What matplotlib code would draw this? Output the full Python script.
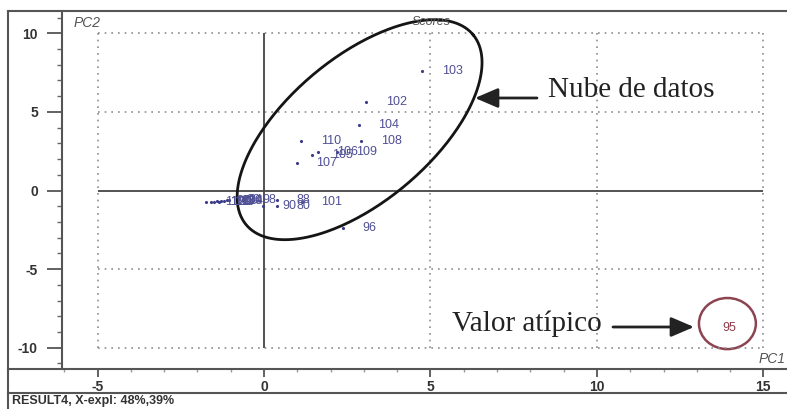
import matplotlib
matplotlib.use('Agg')
import matplotlib.pyplot as plt
import numpy as np
from matplotlib.lines import Line2D
from matplotlib.patches import Ellipse
from matplotlib.ticker import MultipleLocator

# scores (PC1, PC2) with sample labels
labels = ['103', '102', '104', '108', '110', '105', '106', '109', '107',
          '112', '111', '113', '97', '99', '100', '114', '93', '94',
          '98', '90', '80', '88', '101', '96', '95']
pc1 = [4.75, 3.07, 2.84, 2.92, 1.12, 1.45, 1.62, 2.18, 0.99,
       -1.75, -1.6, -1.5, -1.42, -1.35, -1.28, -1.2, -1.12, -1.05,
       -0.64, -0.04, 0.38, 0.38, 1.13, 2.36, 13.19]
pc2 = [7.6, 5.62, 4.17, 3.13, 3.17, 2.28, 2.43, 2.47, 1.75,
       -0.75, -0.72, -0.7, -0.68, -0.7, -0.66, -0.64, -0.62, -0.6,
       -0.6, -0.98, -0.98, -0.6, -0.73, -2.38, -8.77]

x_ticks = [-5, 0, 5, 10, 15]
y_ticks = [-10, -5, 0, 5, 10]
outlier = '95'
status_text = 'RESULT4, X-expl: 48%,39%'

W, H = 787, 409


def fig_xy(x, y):
    # pixel position of the screenshot -> figure fraction
    return x / W, 1 - y / H


def fig_line(fig, x0, y0, x1, y1, **kw):
    a = fig_xy(x0, y0)
    b = fig_xy(x1, y1)
    fig.add_artist(Line2D([a[0], b[0]], [a[1], b[1]], transform=fig.transFigure, **kw))


def main():
    plt.rcParams['font.family'] = ['Liberation Sans', 'DejaVu Sans']
    plt.rcParams['axes.unicode_minus'] = False
    fig = plt.figure(figsize=(W / 100, H / 100), dpi=100)
    ax = fig.add_axes([62 / W, 40 / H, 725 / W, 358 / H])
    ax.set_xlim(-6.07, 15.71)
    ax.set_ylim(-11.35, 11.42)

    for s in ['top', 'right', 'bottom']:
        ax.spines[s].set_visible(False)
    ax.spines['left'].set_color('#555555')
    ax.spines['left'].set_linewidth(1.5)

    ax.set_xticks(x_ticks)
    ax.set_yticks(y_ticks)
    ax.xaxis.set_minor_locator(MultipleLocator(1))
    ax.yaxis.set_minor_locator(MultipleLocator(1))
    ax.tick_params(axis='y', which='major', direction='out', length=10.8, width=1.3,
                   color='#555555', pad=6.5, labelsize=10, labelcolor='#333333')
    ax.tick_params(axis='y', which='minor', direction='out', length=3.6, width=1.0,
                   color='#666666')
    ax.tick_params(axis='x', which='major', direction='out', length=5.8, width=1.3,
                   color='#555555', pad=2, labelsize=10, labelcolor='#333333')
    ax.tick_params(axis='x', which='minor', direction='out', length=2, width=1.0,
                   color='#999999')
    for t in ax.get_xticklabels() + ax.get_yticklabels():
        t.set_fontweight('bold')

    # dotted grid box and solid zero lines
    gx = [v for v in x_ticks if v != 0]
    gy = [v for v in y_ticks if v != 0]
    ax.vlines(gx, min(y_ticks), max(y_ticks), colors='#8c8c8c', linewidth=1.2,
              linestyles=(0, (1, 3)))
    ax.hlines(gy, min(x_ticks), max(x_ticks), colors='#8c8c8c', linewidth=1.2,
              linestyles=(0, (1, 3)))
    ax.vlines(0, min(y_ticks), max(y_ticks), colors='#444444', linewidth=1.3)
    ax.hlines(0, min(x_ticks), max(x_ticks), colors='#444444', linewidth=1.3)

    # points and labels
    normal = [i for i, l in enumerate(labels) if l != outlier]
    ax.plot([pc1[i] for i in normal], [pc2[i] for i in normal], '.', ms=2.5,
            color='#3c3c8c')
    for i, lab in enumerate(labels):
        col = '#8b3a4a' if lab == outlier else '#4f4f95'
        ax.annotate(lab, (pc1[i], pc2[i]), xytext=(14, 0), textcoords='offset points',
                    ha='left', va='center', fontsize=9, color=col)

    # hand-drawn ellipse round the data cloud
    t = np.linspace(0, 2 * np.pi, 300)
    cx, cy = 2.87, 3.87
    ux, uy = 3.41, 6.04
    vx, vy = 1.38, -3.53
    ax.plot(cx + ux * np.cos(t) + vx * np.sin(t), cy + uy * np.cos(t) + vy * np.sin(t),
            color='#151515', lw=2.0, clip_on=False)

    # circle round the outlier
    io = labels.index(outlier)
    ax.add_patch(Ellipse((pc1[io] + 0.73, pc2[io] + 0.31), 1.71, 3.25, fill=False,
                         edgecolor='#8b4450', lw=1.8))

    # frame of the screenshot
    fc = '#555555'
    fig_line(fig, 8, 11, 787, 11, color=fc, lw=1.5)
    fig_line(fig, 8, 11, 8, 409, color=fc, lw=1.5)
    fig_line(fig, 8, 369, 787, 369, color=fc, lw=1.5)
    fig_line(fig, 8, 393, 787, 393, color=fc, lw=1.5)

    fig.text(*fig_xy(87, 23), 'PC2', style='italic', fontsize=10, color='#555555',
             ha='center', va='center')
    fig.text(*fig_xy(786, 359), 'PC1', style='italic', fontsize=10, color='#555555',
             ha='right', va='center')
    fig.text(*fig_xy(431, 22), 'Scores', style='italic', fontsize=9, color='#555555',
             ha='center', va='center')
    fig.text(*fig_xy(12, 401), status_text, fontsize=9, fontweight='bold',
             color='#333333', ha='left', va='center')

    # annotations
    fig.text(*fig_xy(548, 90), 'Nube de datos', family='Liberation Serif', fontsize=21,
             color='#222222', ha='left', va='center')
    ax.annotate('', xy=fig_xy(475, 98), xytext=fig_xy(537, 98),
                xycoords='figure fraction', textcoords='figure fraction',
                arrowprops=dict(arrowstyle='-|>,head_length=0.7,head_width=0.3',
                                mutation_scale=20, color='#222222', lw=2,
                                shrinkA=0, shrinkB=0))
    fig.text(*fig_xy(452, 324), 'Valor atípico', family='Liberation Serif', fontsize=21,
             color='#222222', ha='left', va='center')
    ax.annotate('', xy=fig_xy(694, 327), xytext=fig_xy(613, 327),
                xycoords='figure fraction', textcoords='figure fraction',
                arrowprops=dict(arrowstyle='-|>,head_length=0.7,head_width=0.3',
                                mutation_scale=20, color='#222222', lw=2,
                                shrinkA=0, shrinkB=0))

    fig.savefig('out.png', dpi=100)


if __name__ == '__main__':
    main()
